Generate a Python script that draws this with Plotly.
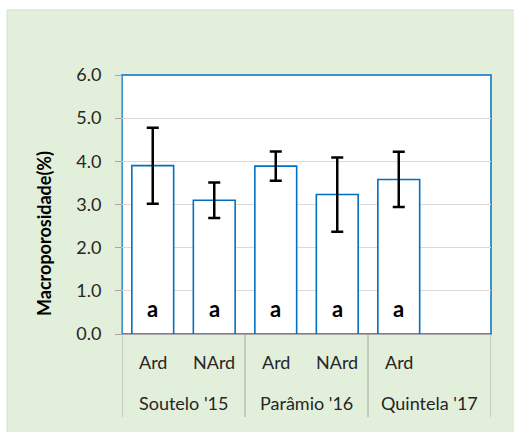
import plotly.graph_objects as go

# ---- data ----
sites = ["Soutelo '15", "Parâmio '16", "Quintela '17"]
site_slots = [2, 2, 2]
treatments = ["Ard", "NArd", "Ard", "NArd", "Ard"]
means = [3.90, 3.10, 3.89, 3.23, 3.58]
errors = [0.88, 0.41, 0.34, 0.86, 0.64]
letters = ["a", "a", "a", "a", "a"]
y_ticks = [0, 1, 2, 3, 4, 5, 6]
y_title = "Macroporosidade(%)"

FONT = "Lato"
W, H = 514, 432
L, R, T, B = 122, 23, 75, 98
pw, ph = W - L - R, H - T - B

def px_x(p):
    return (p - L) / pw

def px_y(p):
    return (H - B - p) / ph

xpos = list(range(len(treatments)))
n_slots = sum(site_slots)

fig = go.Figure()
fig.add_trace(go.Bar(
    x=xpos, y=means, width=0.68,
    marker=dict(color="white", line=dict(color="#0070C0", width=1.6)),
    error_y=dict(type="data", array=errors, visible=True, color="black",
                 thickness=2.5, width=6),
    hoverinfo="skip", showlegend=False,
))

shapes = [
    dict(type="rect", xref="paper", yref="paper", layer="below",
         x0=px_x(7), x1=px_x(W + 5), y0=px_y(H + 5), y1=px_y(10),
         fillcolor="#E2EFDA", line=dict(color="#D9D9D9", width=1)),
    dict(type="rect", xref="paper", yref="paper", layer="below",
         x0=0, x1=1, y0=0, y1=1,
         fillcolor="white", line=dict(color="#0070C0", width=1.5)),
]
b = -0.5
bounds = [b]
for s in site_slots:
    b += s
    bounds.append(b)
for xb in bounds:
    shapes.append(dict(type="line", xref="x", yref="paper", layer="above",
                       x0=xb, x1=xb, y0=0, y1=px_y(417),
                       line=dict(color="#A6A6A6", width=1)))

annotations = []
for i, t in enumerate(treatments):
    annotations.append(dict(x=xpos[i], y=px_y(362), xref="x", yref="paper",
                            xanchor="center", yanchor="middle",
                            text=t, showarrow=False,
                            font=dict(family=FONT, size=18, color="#262626")))
    annotations.append(dict(x=xpos[i], y=0.58, xref="x", yref="y",
                            xanchor="center", yanchor="middle",
                            text="<b>" + letters[i] + "</b>", showarrow=False,
                            font=dict(family=FONT, size=22, color="black")))
for j, s in enumerate(sites):
    c = (bounds[j] + bounds[j + 1]) / 2
    annotations.append(dict(x=c, y=px_y(403), xref="x", yref="paper",
                            xanchor="center", yanchor="middle",
                            text=s, showarrow=False,
                            font=dict(family=FONT, size=18, color="#262626")))
annotations.append(dict(x=px_x(44), y=px_y(234), xref="paper", yref="paper",
                        xanchor="center", yanchor="middle",
                        text="<b>" + y_title + "</b>", textangle=-90,
                        showarrow=False,
                        font=dict(family=FONT, size=18, color="black")))

fig.update_layout(
    width=W, height=H,
    margin=dict(l=L, r=R, t=T, b=B, pad=0),
    paper_bgcolor="white", plot_bgcolor="rgba(0,0,0,0)",
    shapes=shapes, annotations=annotations,
    xaxis=dict(range=[-0.5, n_slots - 0.5], showticklabels=False, ticks="",
               showgrid=False, zeroline=False, showline=True,
               linecolor="#A6A6A6", linewidth=1, fixedrange=True),
    yaxis=dict(range=[0, 6], tickvals=y_ticks,
               ticktext=[f"{v:.1f}" for v in y_ticks],
               ticks="outside", ticklen=6, tickcolor="#A6A6A6",
               ticklabelstandoff=10,
               showgrid=True, gridcolor="#D9D9D9", gridwidth=1,
               zeroline=False, showline=True, linecolor="#A6A6A6",
               linewidth=1,
               tickfont=dict(family=FONT, size=18, color="#262626"),
               fixedrange=True),
    font=dict(family=FONT),
)

fig.write_html("out.html", config={"displayModeBar": False},
               post_script="document.body.style.margin='0';")
